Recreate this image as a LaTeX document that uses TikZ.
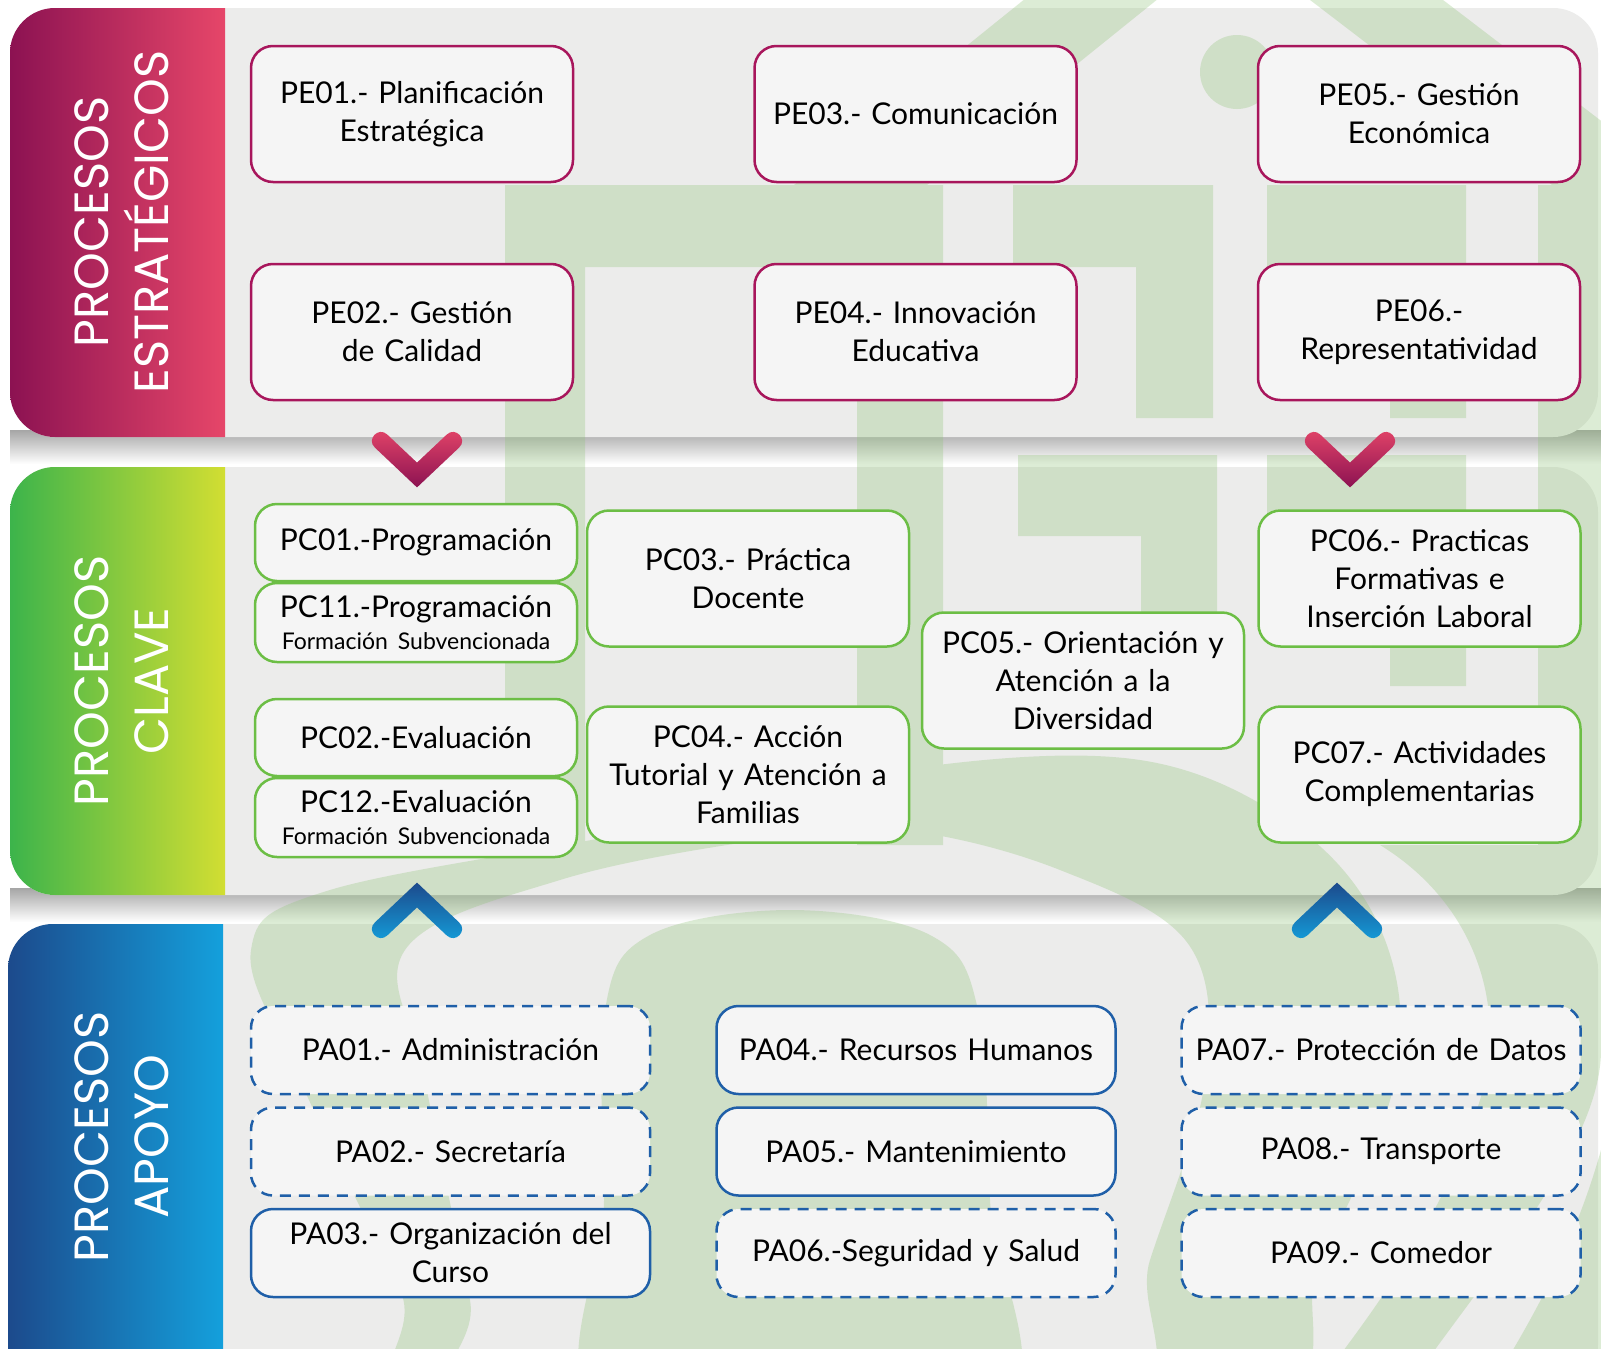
\documentclass[tikz,border=0pt]{standalone}
\usepackage{fontspec}
\setmainfont{Lato}
\newfontfamily\tabfamily{Poppins}
\usetikzlibrary{positioning}

\definecolor{panelgray}{RGB}{236,236,235}
\definecolor{boxfill}{RGB}{245,245,245}
\definecolor{estline}{RGB}{168,22,92}
\definecolor{claveline}{RGB}{108,190,69}
\definecolor{apoyoline}{RGB}{31,95,168}
\definecolor{decogreen}{RGB}{142,195,118}
\definecolor{estdark}{RGB}{140,18,82}
\definecolor{estlight}{RGB}{230,70,105}
\definecolor{clavedark}{RGB}{60,180,75}
\definecolor{clavelight}{RGB}{210,222,50}
\definecolor{apoyodark}{RGB}{28,74,140}
\definecolor{apoyolight}{RGB}{20,160,220}

\newcommand{\boxsize}{\fontsize{30}{38}\selectfont}
\newcommand{\subsize}{\fontsize{23}{27}\selectfont}
\newcommand{\tabsize}{\tabfamily\fontsize{48}{60}\selectfont}

\begin{document}
\begin{tikzpicture}
[x=1pt, y=-1pt, node distance = 503.5pt,
% STYLES
% The proc style is used to draw the process boxes
proc/.style={rectangle, rounded corners=22pt, draw, line width=2.5pt, fill=boxfill, text width=306pt, align=center, inner sep=0pt, minimum width=322pt, minimum height=136pt, font=\boxsize},
pe/.style={proc, draw=estline},
pc/.style={proc, draw=claveline},
pcsmall/.style={pc, minimum height=77pt},
pa/.style={proc, draw=apoyoline, minimum width=399pt, minimum height=88pt, text width=390pt},
padash/.style={pa, dash pattern=on 11pt off 8pt},
% The tab style is used for the names of the process groups
tab/.style={rotate=90, text=white, align=center, font=\tabsize}]

\useasboundingbox (0,0) rectangle (1601,1349);
\fill[white] (0,0) rectangle (1601,1349);

% Shadows and panels
\shade[top color=black!35, bottom color=white] (10,430) rectangle (1601,464);
\shade[top color=black!35, bottom color=white] (10,888) rectangle (1601,922);
\fill[panelgray, rounded corners=45pt] (10,8) rectangle (1598,437);
\fill[panelgray, rounded corners=45pt] (10,467) rectangle (1598,895);
\fill[panelgray, rounded corners=45pt] (8,924) rectangle (1598,1390);

% Background drawing
\begin{scope}[transparency group, opacity=.3]
\clip (225,-20) rectangle (1601,1349);
% roof and chimney
\fill[decogreen] (1036,-10) -- (1169,-10) -- (927,185) -- (794,185) -- cycle;
\fill[decogreen] (1297,-10) -- (1430,-10) -- (1685,185) -- (1552,185) -- cycle;
\fill[decogreen] (1237,72) circle (37);
% walls
\fill[decogreen] (505,185) -- (943,185) -- (943,845) -- (857,845) -- (857,267) -- (585,267) -- (585,870) -- (505,870) -- cycle;
\fill[decogreen] (1013,185) -- (1213,185) -- (1213,418) -- (1136,418) -- (1136,267) -- (1013,267) -- cycle;
\fill[decogreen] (1018,455) -- (1217,455) -- (1217,700) -- (1141,700) -- (1141,536) -- (1018,536) -- cycle;
\fill[decogreen] (1267,185) -- (1466,185) -- (1466,418) -- (1390,418) -- (1390,267) -- (1267,267) -- cycle;
\fill[decogreen] (1267,455) -- (1466,455) -- (1466,686) -- (1390,686) -- (1390,536) -- (1267,536) -- cycle;
\fill[decogreen] (1538,185) rectangle (1601,860);
% arches
\fill[decogreen, even odd rule]
  plot[smooth cycle, tension=.6] coordinates {(460,1420) (400,1290) (300,1080) (251,950) (330,890) (643,830) (900,770) (1140,760) (1300,830) (1385,940) (1395,1080) (1320,1260) (1220,1420)}
  plot[smooth cycle, tension=.6] coordinates {(490,1420) (470,1300) (425,1080) (405,950) (560,880) (760,840) (900,830) (1060,870) (1189,945) (1205,1080) (1150,1260) (1095,1420)}
  plot[smooth cycle, tension=.6] coordinates {(608,1420) (604,1200) (605,1010) (650,935) (790,910) (930,935) (978,1010) (990,1200) (995,1420)};
\fill[decogreen] (1380,845) .. controls (1470,900) and (1510,1000) .. (1480,1100) .. controls (1440,1230) and (1360,1330) .. (1290,1420) -- (1385,1420) .. controls (1480,1280) and (1601,1150) .. (1601,1050) -- (1601,845) -- cycle;
\fill[decogreen] (1601,1150) .. controls (1570,1260) and (1520,1340) .. (1470,1420) -- (1580,1420) -- (1601,1350) -- cycle;
\end{scope}

% Tabs
\begin{scope}
\clip[rounded corners=45pt] (10,8) rectangle (1598,437);
\shade[left color=estdark, right color=estlight] (10,8) rectangle (225,437);
\end{scope}
\begin{scope}
\clip[rounded corners=45pt] (10,467) rectangle (1598,895);
\shade[left color=clavedark, right color=clavelight] (10,467) rectangle (225,895);
\end{scope}
\begin{scope}
\clip[rounded corners=45pt] (8,924) rectangle (1598,1390);
\shade[left color=apoyodark, right color=apoyolight] (8,924) rectangle (223,1390);
\end{scope}

\node[tab] (tabest) at (122,222) {PROCESOS\\ESTRATÉGICOS};
\node[tab] (tabclave) at (122,681) {PROCESOS\\CLAVE};
\node[tab] (tabapoyo) at (122,1137) {PROCESOS\\APOYO};

% Strategic processes
\node[pe] (pe01) at (412,114) {PE01.- Planificación\\Estratégica};
\node[pe, right of=pe01] (pe03) {PE03.- Comunicación};
\node[pe, right of=pe03] (pe05) {PE05.- Gestión\\Económica};
\node[pe] (pe02) at (412,332) {PE02.- Gestión\\de Calidad};
\node[pe, right of=pe02] (pe04) {PE04.- Innovación\\Educativa};
\node[pe, right of=pe04] (pe06) {PE06.-\\Representatividad};

% Key processes
\node[pcsmall] (pc01) at (416,542.5) {PC01.-Programación};
\node[pcsmall, minimum height=79pt] (pc11) at (416,622.5) {PC11.-Programación\\[-6pt]{\subsize Formación Subvencionada}};
\node[pcsmall] (pc02) at (416,737.5) {PC02.-Evaluación};
\node[pcsmall, minimum height=79pt] (pc12) at (416,817.5) {PC12.-Evaluación\\[-6pt]{\subsize Formación Subvencionada}};
\node[pc] (pc03) at (748,578.5) {PC03.- Práctica\\Docente};
\node[pc] (pc04) at (748,774.5) {PC04.- Acción\\Tutorial y Atención a\\Familias};
\node[pc] (pc05) at (1083,680.5) {PC05.- Orientación y\\Atención a la\\Diversidad};
\node[pc] (pc06) at (1419.5,578.5) {PC06.- Practicas\\Formativas e\\Inserción Laboral};
\node[pc] (pc07) at (1419.5,774.5) {PC07.- Actividades\\Complementarias};

% Support processes
\node[padash] (pa01) at (450.5,1050) {PA01.- Administración};
\node[padash, below=11pt of pa01] (pa02) {PA02.- Secretaría};
\node[pa, below=11pt of pa02] (pa03) {PA03.- Organización del\\Curso};
\node[pa] (pa04) at (916,1050) {PA04.- Recursos Humanos};
\node[pa, below=11pt of pa04] (pa05) {PA05.- Mantenimiento};
\node[padash, below=11pt of pa05] (pa06) {PA06.-Seguridad y Salud};
\node[padash] (pa07) at (1381,1050) {PA07.- Protección de Datos};
\node[padash, below=11pt of pa07] (pa08) {PA08.- Transporte};
\node[padash, below=11pt of pa08] (pa09) {PA09.- Comedor};

% Chevrons
\foreach \cx in {417,1350} {
\begin{scope}[shift={(\cx,441)}]
\shade[top color=estlight, bottom color=estdark] (-29.8,-6.5) .. controls (-38.5,-14.7) and (-50.9,-1.7) .. (-42.2,6.5) -- (0,46.4) -- (42.2,6.5) .. controls (50.9,-1.7) and (38.5,-14.7) .. (29.8,-6.5) -- (0,21.6) -- cycle;
\end{scope}
}
\foreach \cx in {417,1337} {
\begin{scope}[shift={(\cx,929)}]
\shade[top color=apoyodark, bottom color=apoyolight] (-29.8,6.5) .. controls (-38.5,14.7) and (-50.9,1.7) .. (-42.2,-6.5) -- (0,-46.4) -- (42.2,-6.5) .. controls (50.9,1.7) and (38.5,14.7) .. (29.8,6.5) -- (0,-21.6) -- cycle;
\end{scope}
}

\end{tikzpicture}
\end{document}
